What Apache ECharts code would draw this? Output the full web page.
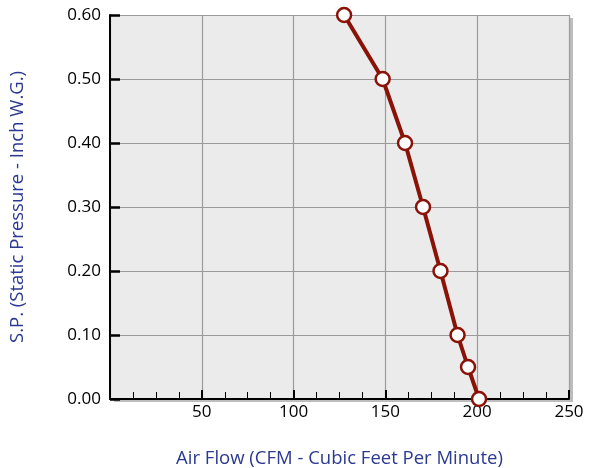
<!DOCTYPE html>
<html><head><meta charset="utf-8">
<script src="https://cdn.jsdelivr.net/npm/echarts@6/dist/echarts.min.js"></script>
<style>html,body{margin:0;padding:0;background:#fff}#c{width:599px;height:468px}</style>
</head><body><div id="c"></div>
<script>
const airFlow = [127.5, 148.5, 160.7, 170.5, 180, 189.3, 195, 201];
const pressure = [0.60, 0.50, 0.40, 0.30, 0.20, 0.10, 0.05, 0.00];
const xName = 'Air Flow (CFM - Cubic Feet Per Minute)';
const yName = 'S.P. (Static Pressure - Inch W.G.)';

const chart = echarts.init(document.getElementById('c'));
const font = '"Open Sans", "Noto Sans", sans-serif';
chart.setOption({
  animation: false,
  grid: {left: 110, right: 30, top: 15, bottom: 69, show: true, outerBoundsMode: 'none', containLabel: false,
    backgroundColor: '#ebebeb', borderWidth: 0,
    shadowColor: '#bdbdbd', shadowBlur: 0, shadowOffsetX: 4, shadowOffsetY: 3},
  xAxis: {
    type: 'value', min: 0, max: 250, interval: 50,
    name: xName, nameLocation: 'middle', nameGap: 50,
    nameTextStyle: {color: '#2b3990', fontSize: 18.5, fontFamily: font},
    axisLine: {show: true, lineStyle: {color: '#000', width: 2}},
    axisTick: {show: true, inside: true, length: 9, lineStyle: {color: '#000', width: 2}},
    minorTick: {show: true, splitNumber: 4, length: 7, lineStyle: {color: '#000', width: 1}},
    axisLabel: {color: '#000', fontSize: 17, fontFamily: font, margin: 5,
      formatter: v => v === 0 ? '' : String(v)},
    splitLine: {show: true, lineStyle: {color: '#9a9a9a', width: 1.2}}
  },
  yAxis: {
    type: 'value', min: 0, max: 0.6, interval: 0.1,
    name: yName, nameLocation: 'middle', nameGap: 83,
    nameTextStyle: {color: '#2b3990', fontSize: 18.5, fontFamily: font},
    axisLine: {show: true, lineStyle: {color: '#000', width: 2}},
    axisTick: {show: true, inside: true, length: 10, lineStyle: {color: '#000', width: 2.5}},
    axisLabel: {color: '#000', fontSize: 17, fontFamily: font, margin: 9,
      formatter: v => v.toFixed(2)},
    splitLine: {show: true, lineStyle: {color: '#9a9a9a', width: 1.2}}
  },
  series: [{
    type: 'line',
    data: airFlow.map((x, i) => [x, pressure[i]]),
    symbol: 'circle', symbolSize: 14,
    lineStyle: {color: '#8a1308', width: 4},
    itemStyle: {color: '#ffffff', borderColor: '#8a1308', borderWidth: 2.5},
    z: 5
  }]
});
</script></body></html>
